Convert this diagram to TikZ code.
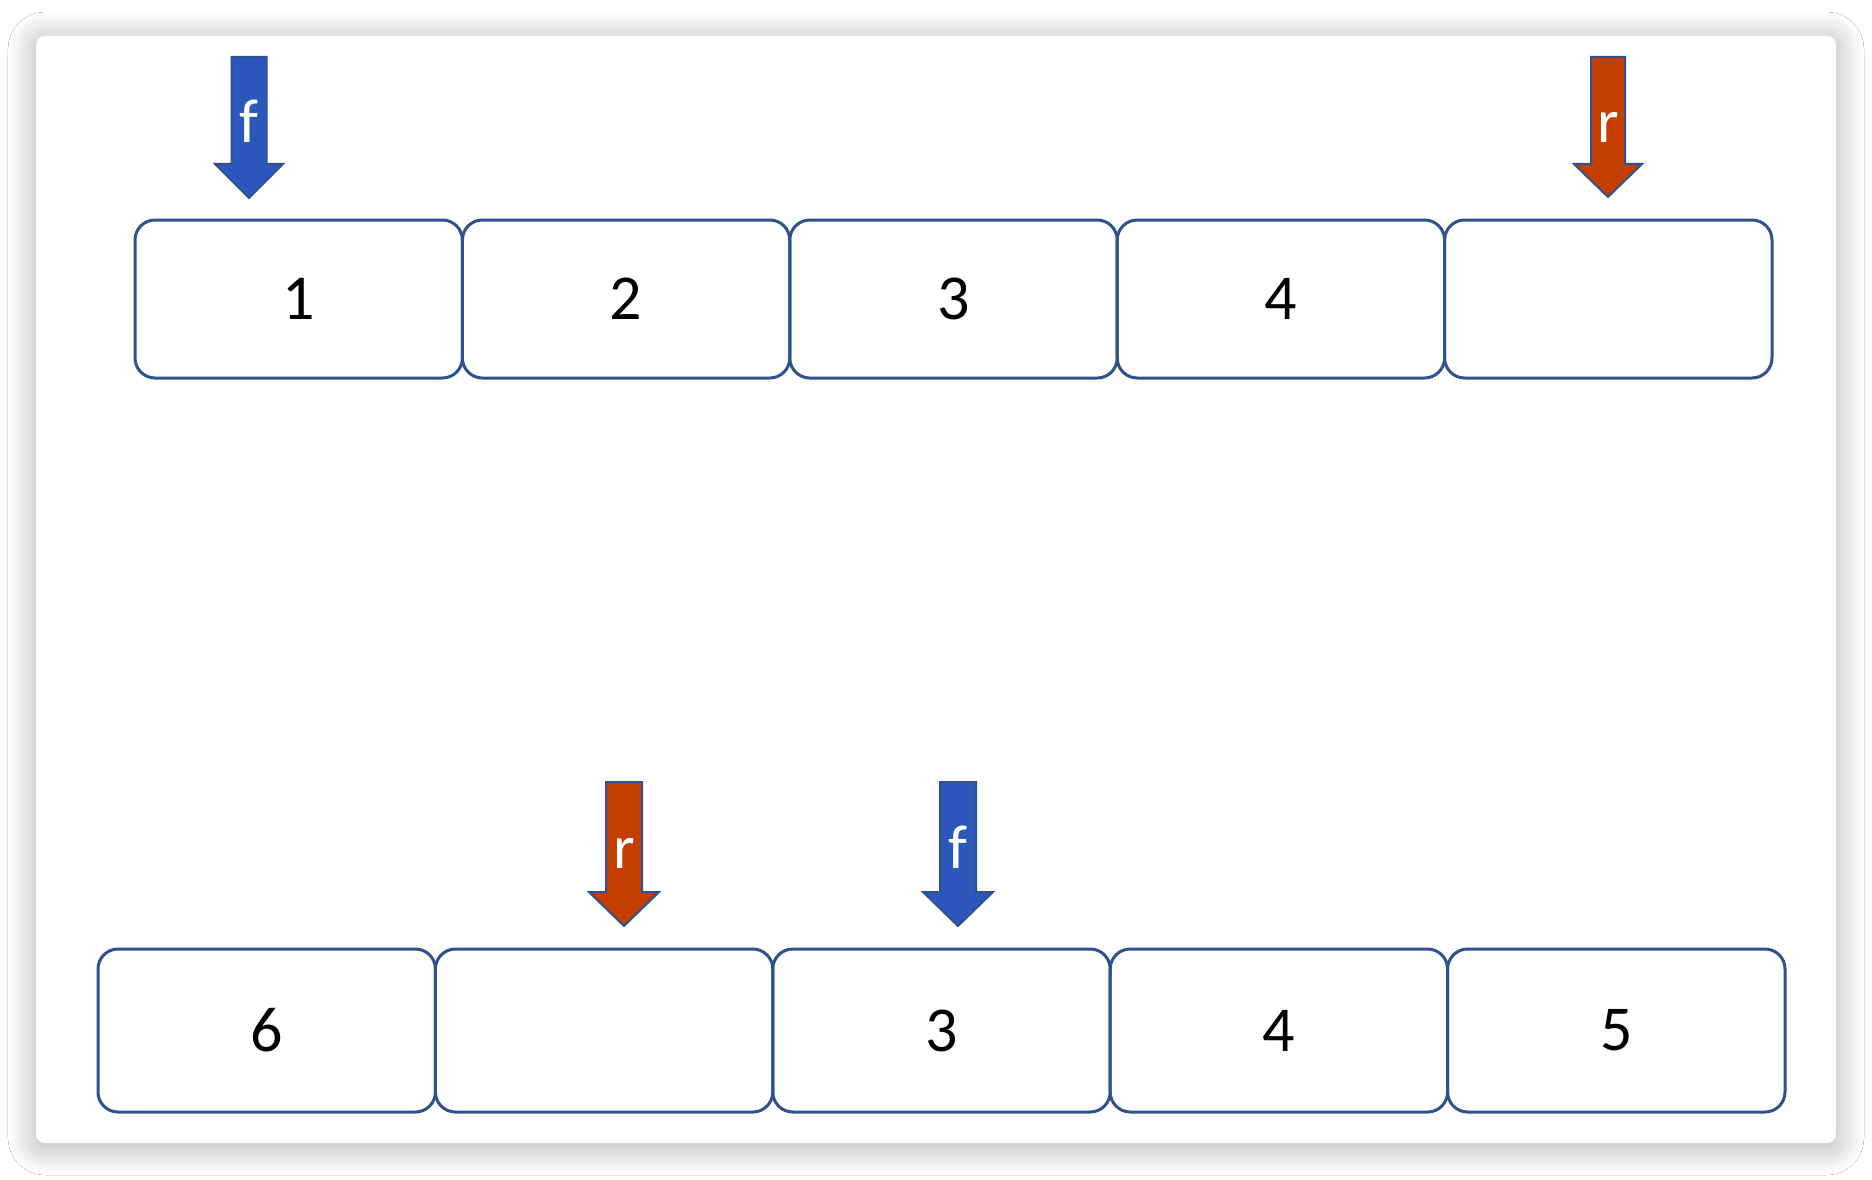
\documentclass[tikz,border=0pt]{standalone}
\usepackage{fontspec}
\setmainfont{Carlito}
\usetikzlibrary{positioning,shadows.blur}

\definecolor{cellline}{HTML}{2F528F}
\definecolor{frontblue}{HTML}{2C58BC}
\definecolor{reardark}{HTML}{C43E00}

\begin{document}
\begin{tikzpicture}[x=1pt,y=-1pt,
  cell/.style={draw=cellline, line width=3pt, rounded corners=20pt, outer sep=0pt, inner sep=0pt, font=\fontsize{64}{70}\selectfont},
  topcell/.style={cell, minimum width=327.4pt, minimum height=158pt},
  botcell/.style={cell, minimum width=337.4pt, minimum height=163pt},
  ptr/.style={draw=cellline, line width=2pt, line join=miter},
  ptrlabel/.style={text=white, anchor=base, inner sep=0pt, font=\fontsize{62}{68}\selectfont}]

\useasboundingbox[fill=white] (0,0) rectangle (1872,1180);
\fill[white, rounded corners=9pt, blur shadow={shadow xshift=0pt, shadow yshift=-4pt, shadow blur radius=28pt, shadow blur steps=24, shadow opacity=32, shadow scale=1}]
  (36,36) rectangle (1836,1143);

% queue before
\node[topcell] (t1) at (298.7,299) {1};
\node[topcell, right=0pt of t1] (t2) {2};
\node[topcell, right=0pt of t2] (t3) {3};
\node[topcell, right=0pt of t3] (t4) {4};
\node[topcell, right=0pt of t4] (t5) {};

\draw[ptr, fill=frontblue] (231.5,57) -- (266.5,57) -- (266.5,164) -- (283,164) -- (249,198) -- (215,164) -- (231.5,164) -- cycle;
\node[ptrlabel] (tf) at (249,143) {f};
\draw[ptr, fill=reardark] (1591,57) -- (1625,57) -- (1625,164) -- (1642,164) -- (1608,197) -- (1574,164) -- (1591,164) -- cycle;
\node[ptrlabel] (tr) at (1608,143) {r};

% queue after wrap
\node[botcell] (b1) at (266.7,1030.5) {6};
\node[botcell, right=0pt of b1] (b2) {};
\node[botcell, right=0pt of b2] (b3) {3};
\node[botcell, right=0pt of b3] (b4) {4};
\node[botcell, right=0pt of b4] (b5) {5};

\draw[ptr, fill=reardark] (606,782) -- (642,782) -- (642,892) -- (659,892) -- (624,926) -- (589,892) -- (606,892) -- cycle;
\node[ptrlabel] (br) at (624,868) {r};
\draw[ptr, fill=frontblue] (940,782) -- (976,782) -- (976,892) -- (993,892) -- (958,926) -- (923,892) -- (940,892) -- cycle;
\node[ptrlabel] (bf) at (958,868) {f};

\end{tikzpicture}
\end{document}
